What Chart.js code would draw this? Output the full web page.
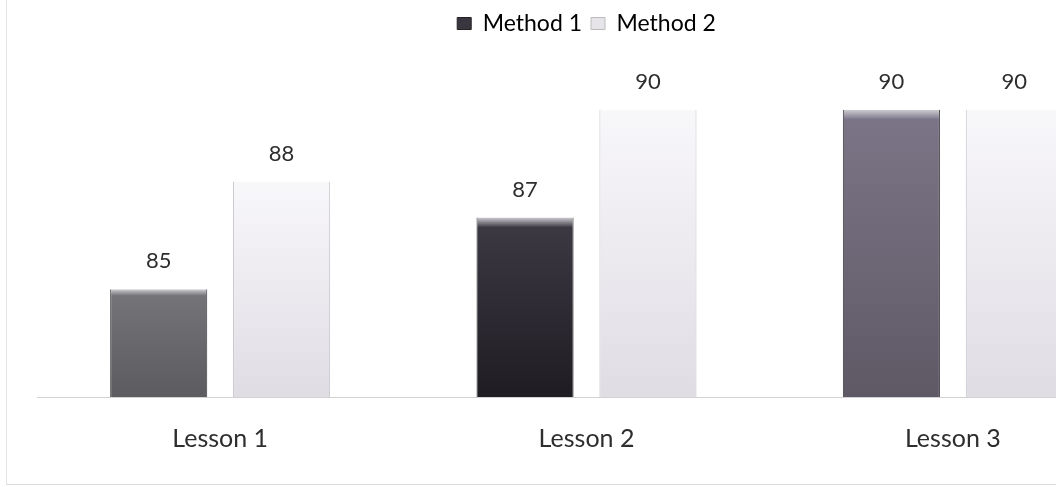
<!DOCTYPE html>
<html>
<head>
<meta charset="utf-8">
<script src="https://cdn.jsdelivr.net/npm/chart.js@4/dist/chart.umd.min.js"></script>
<style>
  html, body { margin: 0; padding: 0; background: #fff; overflow: hidden; }
  #frame { position: absolute; left: 0; top: 0; width: 1056px; height: 487px; overflow: hidden; }
  #edge { position: absolute; left: 6px; top: 0; width: 1050px; height: 484px; border-left: 1px solid #e4e4e4; border-bottom: 1px solid #dcdcdc; pointer-events: none; }
  #wrap { position: absolute; left: 0; top: 0; width: 1140px; height: 487px; }
  canvas { display: block; }
</style>
</head>
<body>
<div id="frame">
  <div id="wrap"><canvas id="c" width="1140" height="487"></canvas></div>
  <div id="edge"></div>
</div>
<script>
const categories = ["Lesson 1", "Lesson 2", "Lesson 3"];
const method1 = [85, 87, 90];
const method2 = [88, 90, 90];
const seriesNames = ["Method 1", "Method 2"];
const yRange = [82, 91.8];

const m1Top = ["#737378", "#3c3842", "#7a7486"];
const m1Bot = ["#5c5c60", "#1f1c23", "#5f5966"];

const FONT = "Lato, 'Open Sans', sans-serif";

function barGrad(context, tops, bots, bevel) {
  const chart = context.chart;
  const area = chart.chartArea;
  const i = context.dataIndex;
  const top = Array.isArray(tops) ? tops[i] : tops;
  const bot = Array.isArray(bots) ? bots[i] : bots;
  if (!area || !context.parsed || !chart.scales.y) return top;
  const y = chart.scales.y.getPixelForValue(context.parsed.y);
  const g = chart.ctx.createLinearGradient(0, y, 0, area.bottom);
  if (bevel) {
    g.addColorStop(0, "#cfcdd2");
    g.addColorStop(Math.min(0.06, 10 / Math.max(1, area.bottom - y)), top);
  } else {
    g.addColorStop(0, top);
  }
  g.addColorStop(1, bot);
  return g;
}

const labelPlugin = {
  id: "valueLabels",
  afterDatasetsDraw(chart) {
    const c = chart.ctx;
    c.save();
    c.font = "22px " + FONT;
    c.fillStyle = "#2e2e2e";
    c.textAlign = "center";
    c.textBaseline = "middle";
    chart.data.datasets.forEach((ds, di) => {
      chart.getDatasetMeta(di).data.forEach((el, i) => {
        c.fillText(String(ds.data[i]), el.x, el.y - 28);
      });
    });
    c.restore();
  }
};

new Chart(document.getElementById("c"), {
  type: "bar",
  data: {
    labels: categories,
    datasets: [
      {
        label: seriesNames[0],
        data: method1,
        backgroundColor: (ctx) => barGrad(ctx, m1Top, m1Bot, true),
        borderColor: "#3a3a3e",
        borderWidth: { left: 1, right: 1, top: 0, bottom: 0 },
        borderSkipped: false,
        barPercentage: 0.79,
        categoryPercentage: 0.671
      },
      {
        label: seriesNames[1],
        data: method2,
        backgroundColor: (ctx) => barGrad(ctx, "#f8f7fa", "#e0dce4", false),
        borderColor: "#c4c2c8",
        borderWidth: { left: 1, right: 1, top: 0, bottom: 0 },
        borderSkipped: false,
        barPercentage: 0.79,
        categoryPercentage: 0.671
      }
    ]
  },
  options: {
    responsive: false,
    animation: false,
    devicePixelRatio: 1,
    layout: { padding: { left: 37, right: 4, top: 3, bottom: 6 } },
    plugins: {
      legend: {
        position: "top",
        align: "center",
        labels: {
          font: { family: FONT, size: 23 },
          color: "#333",
          boxWidth: 14,
          boxHeight: 12,
          padding: 9,
          generateLabels(chart) {
            return seriesNames.map((n, i) => ({
              text: n,
              fillStyle: i === 0 ? "#3a3640" : "#e6e4e8",
              strokeStyle: i === 0 ? "#222" : "#bbb",
              lineWidth: 1,
              datasetIndex: i,
              hidden: false
            }));
          }
        }
      },
      tooltip: { enabled: false }
    },
    scales: {
      x: {
        grid: { display: false, drawTicks: false },
        border: { display: true, color: "#d2d2d2", width: 1 },
        ticks: { color: "#2e2e2e", padding: 27, font: { family: FONT, size: 25 } }
      },
      y: {
        display: false,
        min: yRange[0],
        max: yRange[1]
      }
    }
  },
  plugins: [labelPlugin]
});
</script>
</body>
</html>
